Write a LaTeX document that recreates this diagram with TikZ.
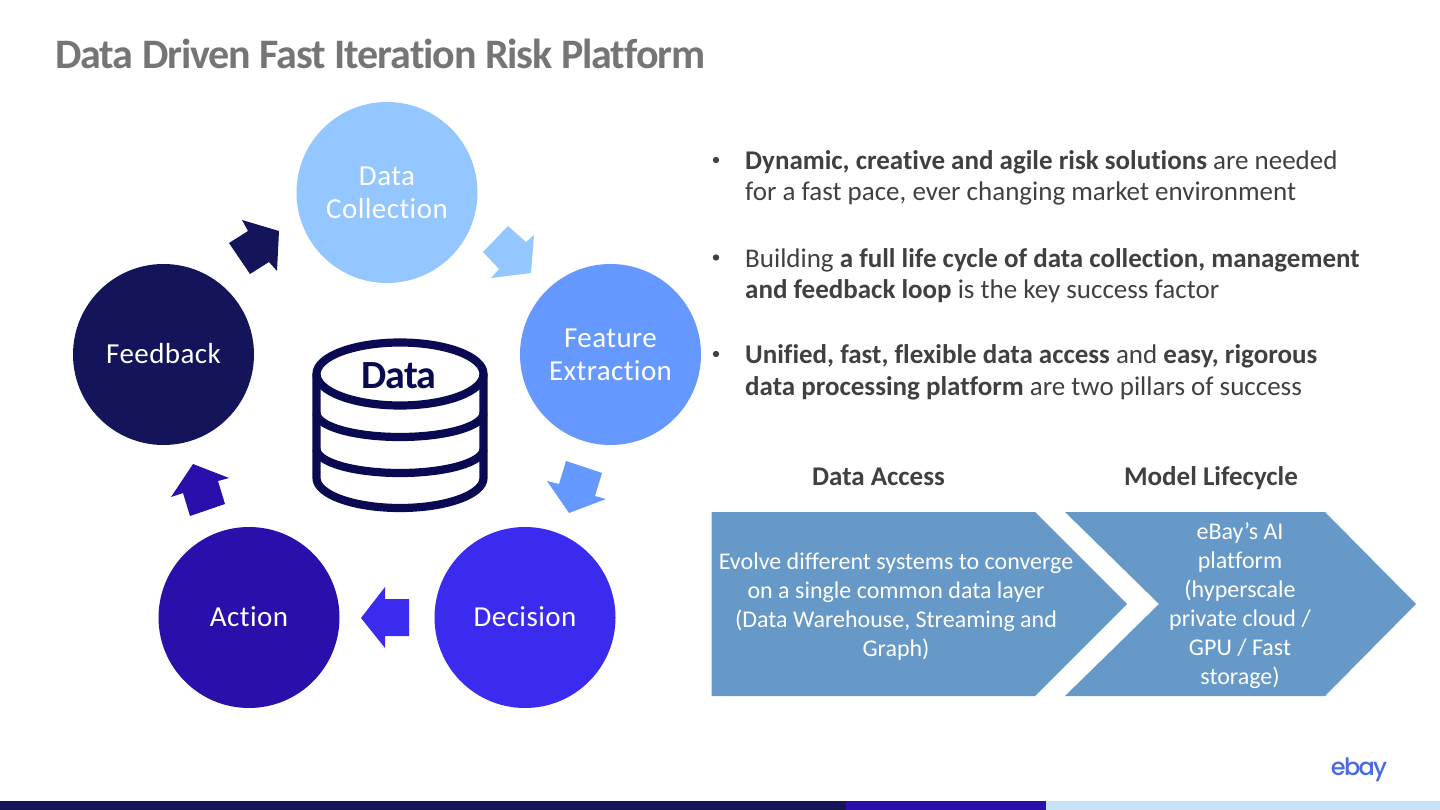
\documentclass[tikz,border=0pt]{standalone}
\usepackage{fontspec}
\setmainfont{Carlito}[Ligatures=NoCommon]
\newfontfamily\titlefont{Carlito}[Ligatures=NoCommon,LetterSpace=-2.6]
\newfontfamily\stagefont{Carlito}[Ligatures=NoCommon,LetterSpace=1.5]
\newfontfamily\logofont{Poppins Medium}[LetterSpace=-7]
\definecolor{lightb}{HTML}{94C6FF}
\definecolor{midb}{HTML}{6699FF}
\definecolor{brightb}{HTML}{3A2BEF}
\definecolor{deepb}{HTML}{2A0FAB}
\definecolor{darkb}{HTML}{14145A}
\definecolor{dbcol}{HTML}{0A0A52}
\definecolor{chevcol}{HTML}{6699C8}
\definecolor{txtcol}{HTML}{404040}
\definecolor{titlecol}{HTML}{757575}
\definecolor{logocol}{HTML}{4A6BE0}
\definecolor{barcol}{HTML}{C5E2F8}
\tikzset{
  stage/.style={circle,minimum size=181pt,inner sep=0pt,text=white,align=center,font=\stagefont\fontsize{29}{32.5}\selectfont},
  bodytxt/.style={anchor=base west,inner sep=0pt,text=txtcol,align=left,font=\fontsize{27}{31.5}\selectfont},
  headtxt/.style={anchor=base,inner sep=0pt,text=txtcol,font=\bfseries\fontsize{27}{31.5}\selectfont},
  chevtxt/.style={inner sep=0pt,text=white,align=center,font=\fontsize{24}{29}\selectfont}
}
\begin{document}
\begin{tikzpicture}[x=1pt,y=-1pt]
\useasboundingbox (0,0) rectangle (1440,810);
\node[anchor=base west,inner sep=0pt,text=titlecol,font=\titlefont\bfseries\fontsize{42}{48}\selectfont] (title) at (55,69) {Data Driven Fast Iteration Risk Platform};
\node[stage,fill=lightb,text depth=-2pt] (collect) at (387,192.5) {Data\\Collection};
\node[stage,fill=midb,text depth=-2pt] (feature) at (610.5,354.5) {Feature\\Extraction};
\node[stage,fill=brightb,text depth=2pt] (decide) at (525,617.5) {Decision};
\node[stage,fill=deepb,text depth=2pt] (action) at (249,617.5) {Action};
\node[stage,fill=darkb,text depth=2pt] (feedback) at (163.5,354.5) {Feedback};
\fill[darkb] (279,231)--(277,271)--(269,262)--(250,274)--(229,243)--(248,231)--(242,220)--cycle;
\fill[lightb] (508,226)--(526,242)--(534,235)--(531,273)--(491,278)--(499,269)--(483,252)--cycle;
\fill[midb] (566,461)--(602,473)--(595,496)--(606,499)--(569,513)--(547,481)--(559,484)--cycle;
\fill[brightb] (361,618)--(385,587)--(385,599)--(409,599)--(409,636)--(385,636)--(385,648)--cycle;
\fill[deepb] (193,464)--(229,478)--(218,481)--(225,504)--(190,516)--(183,493)--(171,497)--cycle;
\draw[dbcol,line width=8.2pt] (400,374) ellipse (83.5 and 31.5);
\foreach \ya/\yr in {413/24,449/24} \draw[dbcol,line width=8.2pt] (316.5,\ya) arc[start angle=180,end angle=0,x radius=83.5,y radius=\yr];
\draw[dbcol,line width=8.2pt,line join=round] (316.5,374)--(316.5,478) arc[start angle=180,end angle=0,x radius=83.5,y radius=30]--(483.5,374);
\node[inner sep=0pt,text=dbcol,font=\titlefont\bfseries\fontsize{40}{48}\selectfont] (dbtxt) at (399,376) {Data};
\foreach \yb/\n in {160/b1,257.5/b2,354/b3} \fill[txtcol] (716,\yb) circle (3.2) coordinate (\n);
\node[bodytxt] (txta) at (745,201) {\textbf{Dynamic, creative and agile risk solutions} are needed\\for a fast pace, ever changing market environment};
\node[bodytxt] (txtb) at (745,298.5) {Building \textbf{a full life cycle of data collection, management}\\\textbf{and feedback loop} is the key success factor};
\node[bodytxt] (txtc) at (745,395) {\textbf{Unified, fast, flexible data access} and \textbf{easy, rigorous}\\\textbf{data processing platform} are two pillars of success};
\node[headtxt] (heada) at (878.5,485.5) {Data Access};
\node[headtxt] (headb) at (1211,485.5) {Model Lifecycle};
\fill[chevcol] (711.5,512)--(1035,512)--(1127,604)--(1035,696)--(711.5,696)--cycle;
\fill[chevcol] (1065,512)--(1325,512)--(1416,604)--(1325,696)--(1065,696)--(1159,604)--cycle;
\node[chevtxt] (chevtxta) at (896,607) {Evolve different systems to converge\\on a single common data layer\\(Data Warehouse, Streaming and\\Graph)};
\node[chevtxt] (chevtxtb) at (1240,605.5) {eBay’s AI\\platform\\(hyperscale\\private cloud /\\GPU / Fast\\storage)};
\node[inner sep=0pt,text=logocol,font=\logofont\fontsize{24}{30}\selectfont] (logo) at (1359,770) {ebay};
\fill[darkb] (0,801) rectangle (846,810);
\fill[deepb] (846,801) rectangle (1046,810);
\fill[barcol] (1046,801) rectangle (1440,810);
\end{tikzpicture}
\end{document}
